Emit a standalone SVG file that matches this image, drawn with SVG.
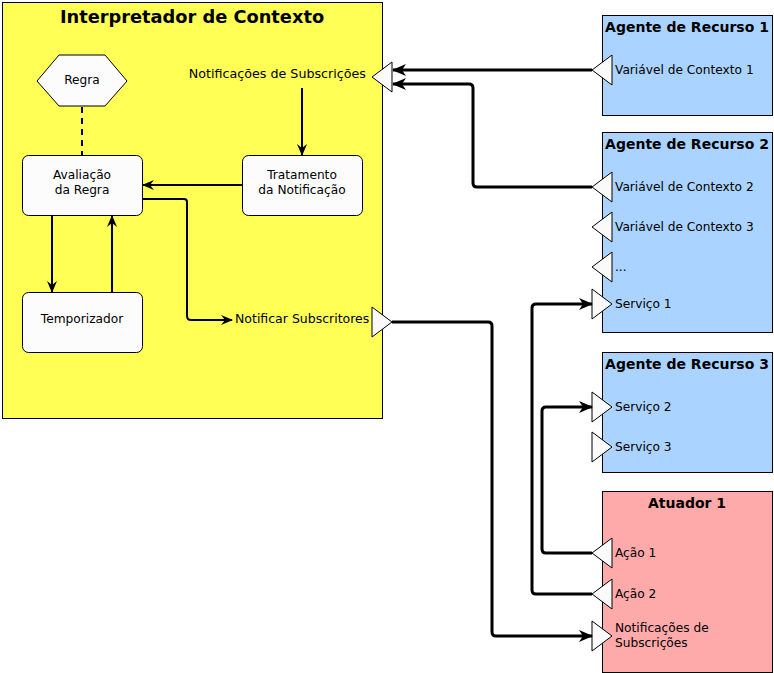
<svg xmlns="http://www.w3.org/2000/svg" width="774" height="673" viewBox="0 0 774 673">
<defs>
<style>
text{font-family:"DejaVu Sans","Liberation Sans",sans-serif;font-size:12.2px;fill:#000}
.title{font-weight:bold;text-anchor:middle;font-size:14px}
.c{text-anchor:middle}
.box{fill:#fcfcfc;stroke:#000;stroke-width:1}
.port{fill:#fafafa;stroke:#000;stroke-width:1}
.in{fill:none;stroke:#000;stroke-width:2;stroke-linejoin:round}
.ex{fill:none;stroke:#000;stroke-width:3;stroke-linejoin:round}
</style>
<marker id="a" markerUnits="userSpaceOnUse" markerWidth="12" markerHeight="12" viewBox="0 0 12 12" refX="11" refY="6" orient="auto">
<path d="M0,1 L12,6 L0,11 L4,6 Z" fill="#000"/>
</marker>
<marker id="b" markerUnits="userSpaceOnUse" markerWidth="14" markerHeight="14" viewBox="0 0 14 14" refX="13" refY="7" orient="auto">
<path d="M0,1 L14,7 L0,13 L4,7 Z" fill="#000"/>
</marker>
</defs>
<rect width="774" height="673" fill="#fff"/>

<g id="interpretador">
<rect x="2.5" y="2.5" width="380" height="416" fill="#ffff55" stroke="#000" stroke-width="1"/>
<text x="192" y="23" style="font-weight:bold;font-size:17.8px;text-anchor:middle">Interpretador de Contexto</text>
</g>

<g id="regra">
<polygon class="box" points="37,81 59,55 105,55 127,81 105,106 59,106"/>
<text class="c" x="82" y="84">Regra</text>
</g>
<g id="avaliacao">
<rect class="box" x="22.5" y="155.5" width="120" height="60" rx="6"/>
<text class="c" x="82" y="179">Avaliação</text>
<text class="c" x="82" y="194">da Regra</text>
</g>
<g id="tratamento">
<rect class="box" x="242.5" y="155.5" width="120" height="60" rx="6"/>
<text class="c" x="302" y="179">Tratamento</text>
<text class="c" x="302" y="194">da Notificação</text>
</g>
<g id="temporizador">
<rect class="box" x="22.5" y="292.5" width="120" height="60" rx="6"/>
<text class="c" x="82" y="323">Temporizador</text>
</g>
<g id="notif-subs">
<text x="366" y="78" style="text-anchor:end;font-size:12.7px">Notificações de Subscrições</text>
<polygon class="port" points="372,77 392,62 392,92"/>
</g>
<g id="notificar">
<text x="235" y="323" style="font-size:12.5px">Notificar Subscritores</text>
<polygon class="port" points="372,307 392,322 372,337"/>
</g>

<g id="agente1">
<rect x="602.5" y="15.5" width="170" height="100" fill="#aad4ff" stroke="#000"/>
<text class="title" x="687" y="32">Agente de Recurso 1</text>
<polygon class="port" points="592,70 612,55 612,85"/>
<text x="615" y="74">Variável de Contexto 1</text>
</g>
<g id="agente2">
<rect x="602.5" y="132.5" width="170" height="200" fill="#aad4ff" stroke="#000"/>
<text class="title" x="687" y="149">Agente de Recurso 2</text>
<polygon class="port" points="592,187 612,172 612,202"/>
<text x="615" y="191">Variável de Contexto 2</text>
<polygon class="port" points="592,227 612,212 612,242"/>
<text x="615" y="231">Variável de Contexto 3</text>
<polygon class="port" points="592,267 612,252 612,282"/>
<text x="615" y="271">...</text>
<polygon class="port" points="592,289 612,304 592,319"/>
<text x="615" y="308">Serviço 1</text>
</g>
<g id="agente3">
<rect x="602.5" y="352.5" width="170" height="120" fill="#aad4ff" stroke="#000"/>
<text class="title" x="687" y="369">Agente de Recurso 3</text>
<polygon class="port" points="592,392 612,407 592,422"/>
<text x="615" y="411">Serviço 2</text>
<polygon class="port" points="592,432 612,447 592,462"/>
<text x="615" y="451">Serviço 3</text>
</g>
<g id="atuador1">
<rect x="602.5" y="491.5" width="170" height="181" fill="#ffaaaa" stroke="#000"/>
<text class="title" x="687" y="508">Atuador 1</text>
<polygon class="port" points="592,553 612,538 612,568"/>
<text x="615" y="557">Ação 1</text>
<polygon class="port" points="592,594 612,579 612,609"/>
<text x="615" y="598">Ação 2</text>
<polygon class="port" points="592,621 612,636 592,651"/>
<text x="615" y="632">Notificações de</text>
<text x="615" y="647">Subscrições</text>
</g>

<g id="connectors">
<line x1="82" y1="107" x2="82" y2="155" stroke="#000" stroke-width="2" stroke-dasharray="6,5"/>
<path class="in" d="M302,88 V155" marker-end="url(#a)"/>
<path class="in" d="M242,185 H143" marker-end="url(#a)"/>
<path class="in" d="M143,199 H184 Q187,199 187,202 V316 Q187,320 191,320 H232" marker-end="url(#a)"/>
<path class="in" d="M52,216 V292" marker-end="url(#a)"/>
<path class="in" d="M112,292 V216" marker-end="url(#a)"/>

<path class="ex" d="M592,70 H393" marker-end="url(#b)"/>
<path class="ex" d="M592,187 H477 Q473,187 473,183 V88 Q473,84 469,84 H393" marker-end="url(#b)"/>
<path class="ex" d="M392,322 H488 Q492,322 492,326 V632 Q492,636 496,636 H592" marker-end="url(#b)"/>
<path class="ex" d="M592,553 H546 Q542,553 542,549 V411 Q542,407 546,407 H592" marker-end="url(#b)"/>
<path class="ex" d="M592,594 H536 Q532,594 532,590 V308 Q532,304 536,304 H592" marker-end="url(#b)"/>
</g>
</svg>
